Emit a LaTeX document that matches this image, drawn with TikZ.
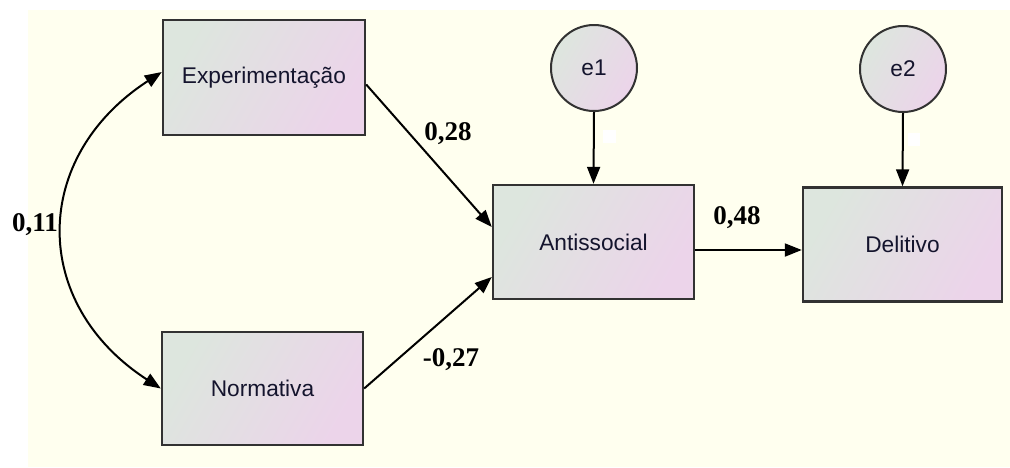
\documentclass[tikz,border=0pt]{standalone}
\usepackage{fontspec}
\setmainfont{Liberation Serif}
\newfontfamily\boxfont{Liberation Sans}
\usetikzlibrary{arrows.meta}
\definecolor{bgyellow}{RGB}{255,255,239}
\definecolor{shadeA}{RGB}{221,230,222}
\definecolor{shadeB}{RGB}{236,212,234}
\definecolor{boxline}{RGB}{50,50,50}
\definecolor{boxtext}{RGB}{20,20,45}
\tikzset{
  varbox/.style={draw=boxline, line width=2.4pt, left color=shadeA, right color=shadeB, shading angle=60,
    minimum width=201pt, minimum height=114pt, inner sep=0pt, font=\boxfont\fontsize{22.7}{26}\selectfont, text=boxtext},
  errcirc/.style={circle, draw=boxline, line width=2pt, left color=shadeA, right color=shadeB, shading angle=60,
    minimum size=86pt, inner sep=0pt, font=\boxfont\fontsize{22.7}{26}\selectfont, text=boxtext},
  path/.style={line width=2pt, -{Triangle[length=17pt,width=13pt]}},
  coef/.style={font=\bfseries\fontsize{27}{30}\selectfont, inner sep=0pt},
  blank/.style={fill=white, inner sep=0pt, minimum width=13pt, minimum height=13pt}
}
\begin{document}
\begin{tikzpicture}[x=1pt,y=-1pt]
\useasboundingbox (0,0) rectangle (1010,467);
\fill[white] (0,0) rectangle (1010,467);
\fill[bgyellow] (28,10) rectangle (1010,467);

\node[varbox, minimum width=202pt, minimum height=115pt] (exp) at (264,77.5) {Experimentação};
\node[varbox, minimum height=113pt] (norm) at (262.5,388.5) {Normativa};
\node[varbox] (anti) at (593.5,242) {Antissocial};
\node[varbox, minimum width=199pt] (del) at (902.5,244.5) {Delitivo};
\node[errcirc] (e1) at (594,68) {e1};
\node[errcirc] (e2) at (903,69) {e2};

\node[blank] (v1) at (609,136.5) {};
\node[blank, minimum width=12pt] (v2) at (914,139) {};

\draw[path] (e1.south) -- (anti.north);
\draw[path] (e2.south) -- (del.north);
\draw[path] ([yshift=-7pt]exp.east) -- ([yshift=15pt]anti.west);
\draw[path] (norm.east) -- ([yshift=-35pt]anti.west);
\draw[path] ([yshift=-8pt]anti.east) -- ([yshift=-5.5pt]del.west);
\draw[line width=2pt, {Triangle[length=17pt,width=13pt]}-{Triangle[length=17pt,width=13pt]}]
  ([yshift=5.5pt]exp.west) .. controls +(-131,85) and +(-131,-85) .. (norm.west);

\node[coef] (c1) at (448,134) {0,28};
\node[coef] (c2) at (451,360) {-0,27};
\node[coef] (c3) at (737,218) {0,48};
\node[coef] (c4) at (35,225) {0,11};
\end{tikzpicture}
\end{document}
